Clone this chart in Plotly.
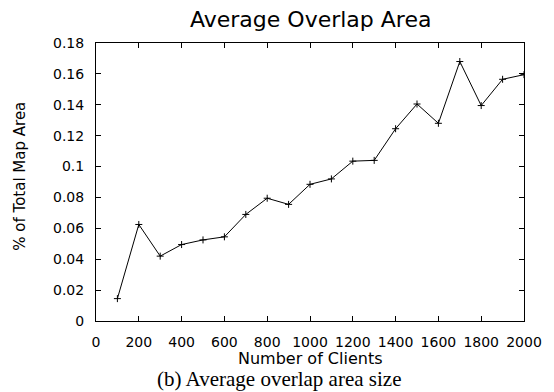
import plotly.graph_objects as go

# Average overlap area vs. number of clients
clients = [100, 200, 300, 400, 500, 600, 700, 800, 900, 1000,
           1100, 1200, 1300, 1400, 1500, 1600, 1700, 1800, 1900, 2000]
overlap = [0.0145, 0.0625, 0.0420, 0.0495, 0.0525, 0.0545, 0.0690, 0.0795, 0.0755, 0.0885,
           0.0920, 0.1035, 0.1040, 0.1245, 0.1405, 0.1280, 0.1680, 0.1395, 0.1565, 0.1595]

x_tick_vals = [0, 200, 400, 600, 800, 1000, 1200, 1400, 1600, 1800, 2000]
x_tick_text = ["0", "200", "400", "600", "800", "1000", "1200", "1400", "1600", "1800", "2000"]
y_tick_vals = [0, 0.02, 0.04, 0.06, 0.08, 0.10, 0.12, 0.14, 0.16, 0.18]
y_tick_text = ["0", "0.02", "0.04", "0.06", "0.08", "0.1", "0.12", "0.14", "0.16", "0.18"]

title_text = "Average Overlap Area"
x_title = "Number of Clients"
y_title = "% of Total Map Area"
caption = "(b) Average overlap area size"

SANS = "DejaVu Sans"
SERIF = "Liberation Serif"

fig = go.Figure()
fig.add_trace(go.Scatter(
    x=clients, y=overlap, mode="lines+markers",
    line=dict(color="black", width=1),
    marker=dict(symbol="cross-thin", size=5, color="black",
                line=dict(color="black", width=1)),
    showlegend=False,
))

axis_common = dict(
    showgrid=False, zeroline=False,
    showline=True, linecolor="black", linewidth=1, mirror="ticks",
    ticks="inside", ticklen=5, tickwidth=1, tickcolor="black",
    tickfont=dict(family=SANS, size=14, color="black"),
)

fig.update_xaxes(range=[0, 2000], tickvals=x_tick_vals, ticktext=x_tick_text,
                 ticklabelstandoff=8, **axis_common)
fig.update_yaxes(range=[0, 0.18], tickvals=y_tick_vals, ticktext=y_tick_text,
                 ticklabelstandoff=8, **axis_common)

annotations = [
    dict(text=title_text, x=0.5, y=1.083, xref="paper", yref="paper",
         xanchor="center", yanchor="middle", showarrow=False,
         font=dict(family=SANS, size=22, color="black")),
    dict(text=x_title, x=0.5, y=-0.134, xref="paper", yref="paper",
         xanchor="center", yanchor="middle", showarrow=False,
         font=dict(family=SANS, size=16, color="black")),
    dict(text=y_title, x=-0.177, y=0.52, xref="paper", yref="paper",
         xanchor="center", yanchor="middle", showarrow=False, textangle=-90,
         font=dict(family=SANS, size=15, color="black")),
    dict(text=caption, x=0.428, y=-0.209, xref="paper", yref="paper",
         xanchor="center", yanchor="middle", showarrow=False,
         font=dict(family=SERIF, size=21, color="black")),
]

fig.update_layout(
    width=554, height=392,
    margin=dict(l=96, r=21, t=43, b=71),
    paper_bgcolor="white", plot_bgcolor="white",
    annotations=annotations,
)

fig.write_html("out.html")
